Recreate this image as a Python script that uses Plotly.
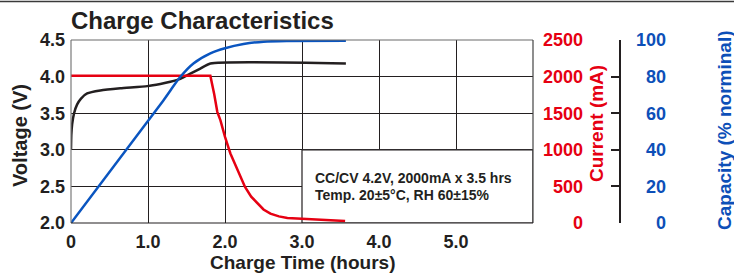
import plotly.graph_objects as go

# ---- data ----
hours_voltage = [0, 0.004, 0.015, 0.04, 0.08, 0.13, 0.21, 0.38, 0.64, 0.99, 1.16, 1.29, 1.42, 1.55, 1.68, 1.81, 3.57]
voltage = [3.0, 3.2, 3.35, 3.5, 3.62, 3.70, 3.77, 3.81, 3.84, 3.87, 3.90, 3.93, 3.97, 4.04, 4.11, 4.18, 4.18]

hours_current = [0, 1.81, 1.86, 1.90, 1.94, 2.0, 2.07, 2.16, 2.26, 2.34, 2.42, 2.50, 2.59, 2.70, 2.81, 2.98, 3.56]
current = [2010, 2010, 1760, 1519, 1405, 1177, 950, 721, 493, 360, 265, 185, 128, 90, 68, 60, 27]

hours_capacity = [0, 1.2, 1.3, 1.42, 1.59, 1.81, 2.0, 2.24, 2.5, 2.8, 3.57]
capacity = [0, 67, 73, 79.9, 87.2, 92.7, 95.5, 97.8, 99.1, 99.5, 99.6]

x_ticks = [0, 1, 2, 3, 4, 5]
x_tick_text = ["0", "1.0", "2.0", "3.0", "4.0", "5.0"]
v_ticks = [2.0, 2.5, 3.0, 3.5, 4.0, 4.5]
v_tick_text = ["2.0", "2.5", "3.0", "3.5", "4.0", "4.5"]
i_ticks = [0, 500, 1000, 1500, 2000, 2500]
c_ticks = [0, 20, 40, 60, 80, 100]

note_lines = ["CC/CV 4.2V, 2000mA x 3.5 hrs", "Temp. 20±5°C, RH 60±15%"]

# ---- style ----
FONT = "Liberation Sans, Arial, Helvetica, sans-serif"
DARK = "#231f20"
RED = "#e60012"
BLUE = "#0a55c0"
BLUE_TXT = "#0d4fb8"

W, H = 734, 273
ML, MR, MT, MB = 71, 1, 40, 50
PW = W - ML - MR
PH = H - MT - MB
XDOM = 462 / PW


def px(xpix):
    return (xpix - ML) / PW


def py(ypix):
    return (MT + PH - ypix) / PH


fig = go.Figure()
fig.add_trace(go.Scatter(x=hours_voltage, y=voltage, mode="lines",
                         line=dict(color=DARK, width=2.5, shape="spline", smoothing=0.5),
                         yaxis="y", hoverinfo="skip", showlegend=False))
fig.add_trace(go.Scatter(x=hours_current, y=current, mode="lines",
                         line=dict(color=RED, width=2.5, shape="linear"),
                         yaxis="y2", hoverinfo="skip", showlegend=False))
fig.add_trace(go.Scatter(x=hours_capacity, y=capacity, mode="lines",
                         line=dict(color=BLUE, width=2.5, shape="spline", smoothing=0.6),
                         yaxis="y4", hoverinfo="skip", showlegend=False))
fig.add_trace(go.Scatter(x=[], y=[], yaxis="y3", showlegend=False))

tick_font = dict(family=FONT, size=18, color=DARK, weight="bold")

fig.update_layout(
    template="none",
    width=W, height=H,
    margin=dict(l=ML, r=MR, t=MT, b=MB, autoexpand=False),
    paper_bgcolor="white", plot_bgcolor="white",
    xaxis=dict(domain=[0, XDOM], range=[0, 6], tickvals=x_ticks, ticktext=x_tick_text,
               showgrid=True, gridcolor=DARK, gridwidth=1.2, zeroline=False, automargin=False,
               showline=False, ticks="", ticklabelstandoff=6, tickfont=tick_font),
    yaxis=dict(range=[2.0, 4.5], tickvals=v_ticks, ticktext=v_tick_text, automargin=False,
               showgrid=True, gridcolor=DARK, gridwidth=1.2, zeroline=False,
               showline=False, ticks="", ticklabelstandoff=5, tickfont=tick_font),
    yaxis2=dict(overlaying="y", side="left", anchor="free", position=px(583), automargin=False,
                range=[0, 2500], tickvals=i_ticks, showgrid=False, zeroline=False,
                showline=False, ticks="",
                tickfont=dict(family=FONT, size=18, color=RED, weight="bold")),
    yaxis3=dict(overlaying="y", side="left", anchor="free", position=px(666), automargin=False,
                range=[0, 100], tickvals=c_ticks, showgrid=False, zeroline=False,
                showline=False, ticks="",
                tickfont=dict(family=FONT, size=18, color=BLUE_TXT, weight="bold")),
    yaxis4=dict(overlaying="y", side="right", anchor="free", position=px(619.5), automargin=False,
                range=[0, 100], tickvals=c_ticks, showgrid=False, zeroline=False,
                showline=True, linecolor=DARK, linewidth=1.5,
                ticks="inside", ticklen=8, tickwidth=1.5, tickcolor=DARK,
                showticklabels=False),
)

# white note box covering the lower-right grid
fig.add_shape(type="rect", xref="x", yref="y", x0=3, x1=6, y0=2.0, y1=3.0,
              fillcolor="white", line=dict(color=DARK, width=1.2), layer="between")
# frame
fig.add_shape(type="line", xref="x domain", yref="y domain", x0=0, x1=0, y0=0, y1=1,
              line=dict(color="#7a7a7a", width=1.2))
fig.add_shape(type="line", xref="x domain", yref="y domain", x0=0, x1=1, y0=1, y1=1,
              line=dict(color="#6a6a6a", width=1.2))
fig.add_shape(type="line", xref="x domain", yref="y domain", x0=1, x1=1, y0=0, y1=1,
              line=dict(color="#444444", width=1.2))
fig.add_shape(type="line", xref="x domain", yref="y domain", x0=0, x1=1, y0=0, y1=0,
              line=dict(color=DARK, width=1.2))
# top rule of the page
fig.add_shape(type="rect", xref="paper", yref="paper", x0=px(-2), x1=px(W + 2),
              y0=py(2.2), y1=py(0.8), fillcolor="#3a3a3a", line=dict(width=0), layer="above")

def ann(text, x, y, size, color, angle=0, xanchor="center", xref="paper", yref="paper"):
    fig.add_annotation(text=text, x=x, y=y, xref=xref, yref=yref, showarrow=False,
                       xanchor=xanchor, yanchor="middle", textangle=angle,
                       font=dict(family=FONT, size=size, color=color, weight="bold"))

ann("Charge Characteristics", px(69), py(20.5), 24, DARK, xanchor="left")
ann("Charge Time (hours)", px(302), py(262), 19, DARK)
ann("Voltage (V)", px(20), py(136), 20, DARK, angle=-90)
ann("Current (mA)", px(597), py(124), 19, RED, angle=-90)
ann("Capacity (% norminal)", px(724), py(130), 19, BLUE_TXT, angle=-90)
ann(note_lines[0], 3.14, 2.62, 14, DARK, xanchor="left", xref="x", yref="y")
ann(note_lines[1], 3.14, 2.385, 14, DARK, xanchor="left", xref="x", yref="y")

fig.write_html("out.html", config={"displayModeBar": False},
               post_script="document.body.style.margin='0px';document.body.style.padding='0px';")
